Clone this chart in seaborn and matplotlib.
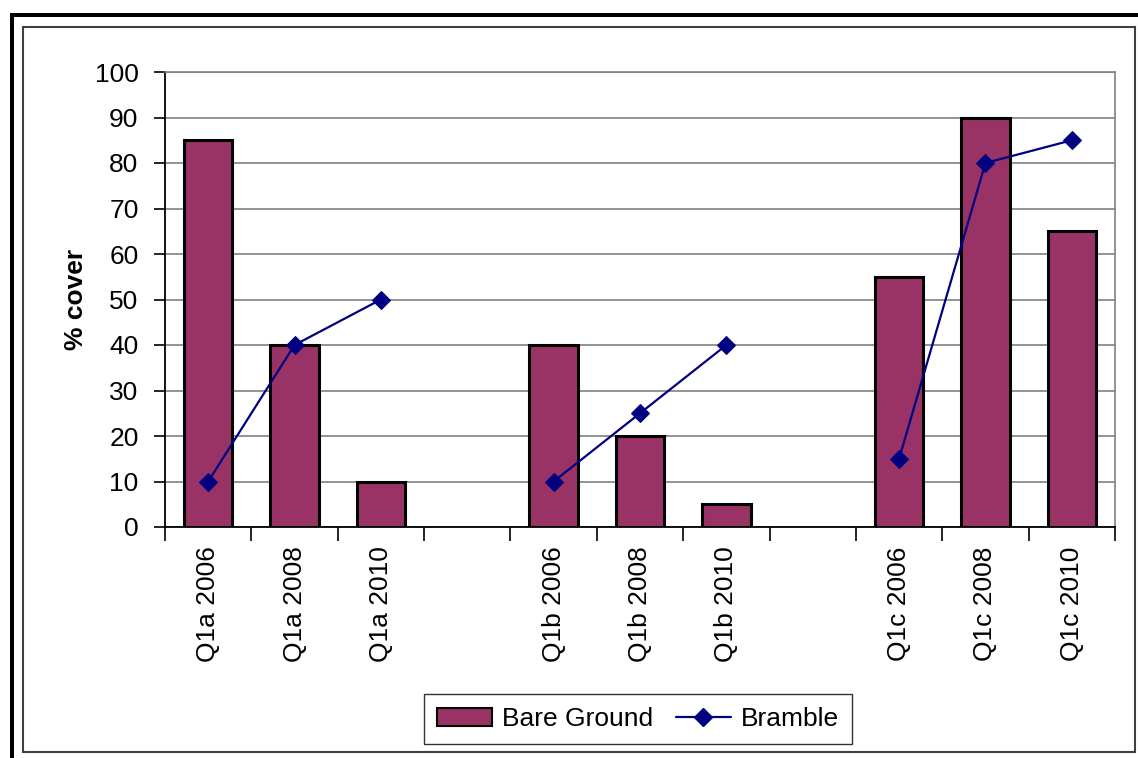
import numpy as np
import pandas as pd
import seaborn as sns
import matplotlib.pyplot as plt
from matplotlib.patches import Rectangle
from matplotlib.lines import Line2D

categories = ["Q1a 2006", "Q1a 2008", "Q1a 2010", " ",
              "Q1b 2006", "Q1b 2008", "Q1b 2010", "  ",
              "Q1c 2006", "Q1c 2008", "Q1c 2010"]
sites = ["Q1a", "Q1a", "Q1a", "gap1", "Q1b", "Q1b", "Q1b", "gap2", "Q1c", "Q1c", "Q1c"]
bare_ground = [85, 40, 10, np.nan, 40, 20, 5, np.nan, 55, 90, 65]
bramble = [10, 40, 50, np.nan, 10, 25, 40, np.nan, 15, 80, 85]
y_ticks = [0, 10, 20, 30, 40, 50, 60, 70, 80, 90, 100]

df = pd.DataFrame({"cat": categories, "site": sites,
                   "bare": bare_ground, "bramble": bramble})
df["pos"] = np.arange(len(df))

sns.set_theme(style="white")
plt.rcParams["font.family"] = ["Liberation Sans", "DejaVu Sans"]
plt.rcParams["text.color"] = "black"
plt.rcParams["xtick.color"] = "black"
plt.rcParams["ytick.color"] = "black"
plt.rcParams["axes.labelcolor"] = "black"

FS = 19

W, H = 1138, 758
fig = plt.figure(figsize=(W / 100, H / 100), dpi=100)
ax = fig.add_axes([165 / W, 1 - 527 / H, (1115 - 165) / W, (527 - 72) / H])

bar_color = "#993366"
line_color = "#000080"

sns.barplot(data=df, x="cat", y="bare", order=categories, color=bar_color,
            saturation=1, width=0.56, edgecolor="black", linewidth=2.2,
            ax=ax, zorder=3)
sns.lineplot(data=df.dropna(subset=["bramble"]), x="pos", y="bramble",
             units="site", estimator=None, color=line_color, linewidth=1.6,
             marker="D", markersize=9, markeredgecolor=line_color,
             ax=ax, zorder=4, legend=False)

ax.set_xlim(-0.5, len(categories) - 0.5)
ax.set_ylim(0, 100)
ax.set_yticks(y_ticks)
ax.set_yticklabels([str(v) for v in y_ticks], fontsize=FS)
ax.yaxis.grid(True, color="#808080", linewidth=1.2, zorder=0)
ax.set_axisbelow(True)

ax.set_xticks(np.arange(len(categories)))
ax.set_xticklabels(categories, rotation=90, fontsize=FS)
ax.tick_params(axis="x", length=0, pad=14)
ax.tick_params(axis="y", length=8, width=1.2, color="black", pad=11, direction="out", left=True)
# minor ticks at category boundaries
ax.set_xticks(np.arange(-0.5, len(categories)), minor=True)
ax.tick_params(axis="x", which="minor", length=10, width=1.2, color="black", direction="out", bottom=True)

ax.set_xlabel("")
ax.set_ylabel("% cover", fontsize=FS, fontweight="bold", labelpad=5)

for s in ["left", "bottom"]:
    ax.spines[s].set_color("black")
    ax.spines[s].set_linewidth(1.3)
for s in ["top", "right"]:
    ax.spines[s].set_color("#808080")
    ax.spines[s].set_linewidth(1.2)
    ax.spines[s].set_visible(True)

# legend
handles = [Rectangle((0, 0), 1, 1, facecolor=bar_color, edgecolor="black", linewidth=1.5),
           Line2D([0], [0], color=line_color, linewidth=1.6, marker="D",
                  markersize=9, markeredgecolor=line_color)]
leg = fig.legend(handles, ["Bare Ground", "Bramble"], loc="center",
                 bbox_to_anchor=(638 / W, 1 - 719 / H), ncol=2, fontsize=FS,
                 frameon=True, fancybox=False, edgecolor="black",
                 handlelength=2.1, handleheight=0.7, columnspacing=0.85,
                 handletextpad=0.38, borderpad=0.5, borderaxespad=0)
leg.get_frame().set_linewidth(1.0)

# outer frames
fig.add_artist(Rectangle((23 / W, 1 - 752 / H), (1135 - 23) / W, (752 - 27) / H,
                         transform=fig.transFigure, fill=False,
                         edgecolor="#404040", linewidth=1.5))
fig.add_artist(Rectangle((10 / W, 1 - 17 / H), (W - 10) / W, 4 / H,
                         transform=fig.transFigure, facecolor="black",
                         edgecolor="none"))
fig.add_artist(Rectangle((10 / W, 0), 4 / W, (H - 13) / H,
                         transform=fig.transFigure, facecolor="black",
                         edgecolor="none"))

fig.savefig("out.png", dpi=100)
